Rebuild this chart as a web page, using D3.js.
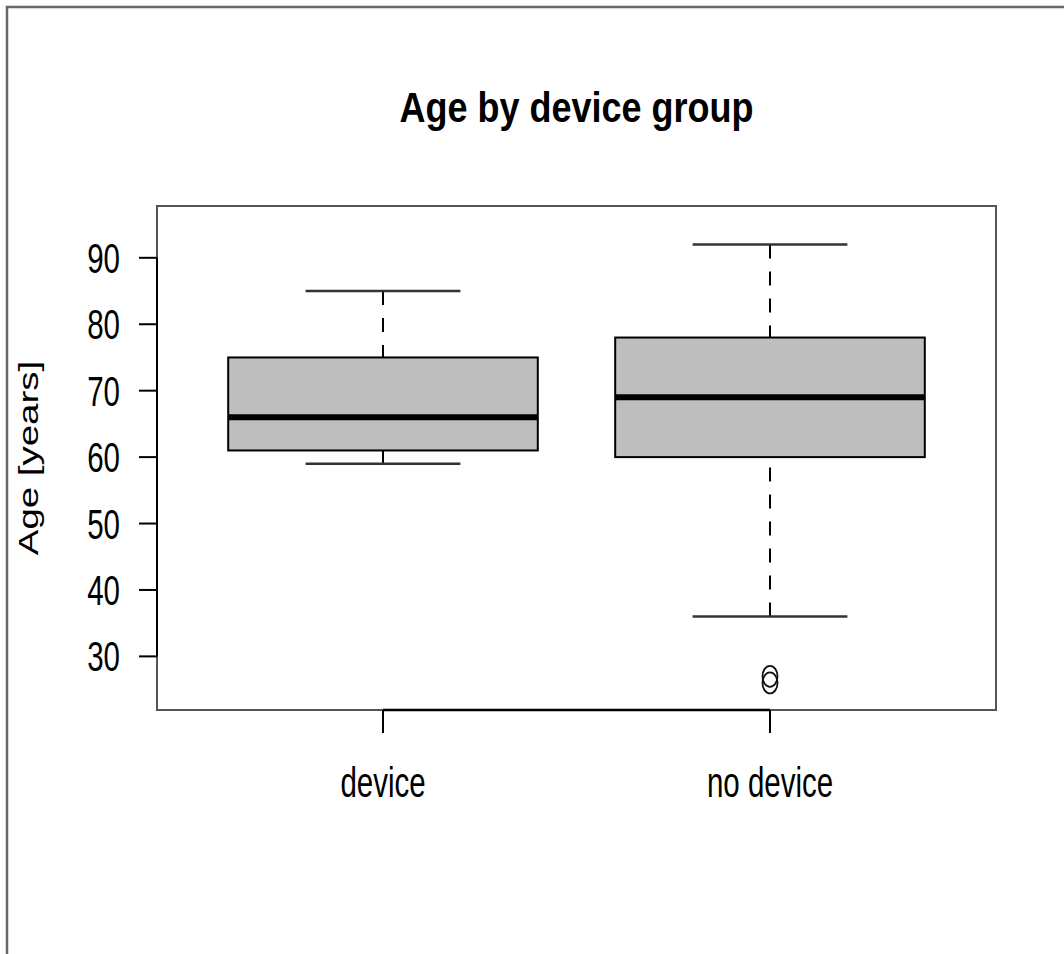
<!DOCTYPE html>
<meta charset="utf-8">
<style>
    body { margin: 0; background: #fff; }
    text { font-family: "Liberation Sans", Arial, sans-serif; fill: #000; }
</style>
<body>
    <script src="https://d3js.org/d3.v7.min.js"></script>
    <svg width="1064" height="954"></svg>
    <script>
        // boxplot stats
        var groups = ["device", "no device"];
        var lowerWhisker = [59, 36];
        var q1 = [61, 60];
        var medians = [66, 69];
        var q3 = [75, 78];
        var upperWhisker = [85, 92];
        var outliers = [[], [26, 27]];
        var yTicks = [30, 40, 50, 60, 70, 80, 90];
        var yDomain = [21.93, 97.8];

        var svg = d3.select("svg");

        // the original is stretched vertically, so text is too
        var stretch = 1.43,
            fs = 29.5;

        var plot = { left: 157, right: 996, top: 206, bottom: 710 };

        var xScale = d3.scalePoint().domain(groups).range([plot.left, plot.right]).padding(0.584),
            yScale = d3.scaleLinear().domain(yDomain).range([plot.bottom, plot.top]);

        var boxW = xScale.step() * 0.8,
            capW = boxW * 0.5;

        // outer frame
        svg.append("rect")
            .attr("x", 7).attr("y", 7)
            .attr("width", 1120).attr("height", 1000)
            .attr("fill", "none")
            .attr("stroke", "#666")
            .attr("stroke-width", 2.5);

        // title
        svg.append("text")
            .attr("transform", "translate(" + ((plot.left + plot.right) / 2) + ",122) scale(1,1.2)")
            .attr("text-anchor", "middle")
            .style("font-weight", "bold")
            .style("font-size", "36px")
            .text("Age by device group");

        var stats = groups.map(function(g, i) {
            return { name: g, lo: lowerWhisker[i], q1: q1[i], med: medians[i], q3: q3[i], hi: upperWhisker[i], out: outliers[i] };
        });

        var box = svg.selectAll(".box")
            .data(stats)
            .enter().append("g")
            .attr("class", "box");

        // whiskers drawn from the end towards the box, dashed
        box.append("line")
            .attr("x1", d => xScale(d.name)).attr("x2", d => xScale(d.name))
            .attr("y1", d => yScale(d.hi)).attr("y2", d => yScale(d.q3))
            .attr("stroke", "#000").attr("stroke-width", 2)
            .attr("stroke-dasharray", "14,13");
        box.append("line")
            .attr("x1", d => xScale(d.name)).attr("x2", d => xScale(d.name))
            .attr("y1", d => yScale(d.lo)).attr("y2", d => yScale(d.q1))
            .attr("stroke", "#000").attr("stroke-width", 2)
            .attr("stroke-dasharray", "14,13");

        // staples
        box.selectAll(".cap")
            .data(d => [d.hi, d.lo].map(v => ({ name: d.name, v: v })))
            .enter().append("line")
            .attr("class", "cap")
            .attr("x1", d => xScale(d.name) - capW / 2)
            .attr("x2", d => xScale(d.name) + capW / 2)
            .attr("y1", d => yScale(d.v)).attr("y2", d => yScale(d.v))
            .attr("stroke", "#333").attr("stroke-width", 2.5);

        box.append("rect")
            .attr("x", d => xScale(d.name) - boxW / 2)
            .attr("y", d => yScale(d.q3))
            .attr("width", boxW)
            .attr("height", d => yScale(d.q1) - yScale(d.q3))
            .attr("fill", "#bebebe")
            .attr("stroke", "#000")
            .attr("stroke-width", 2);

        box.append("line")
            .attr("x1", d => xScale(d.name) - boxW / 2)
            .attr("x2", d => xScale(d.name) + boxW / 2)
            .attr("y1", d => yScale(d.med)).attr("y2", d => yScale(d.med))
            .attr("stroke", "#000").attr("stroke-width", 6);

        box.selectAll(".out")
            .data(d => d.out.map(v => ({ name: d.name, v: v })))
            .enter().append("ellipse")
            .attr("class", "out")
            .attr("cx", d => xScale(d.name))
            .attr("cy", d => yScale(d.v))
            .attr("rx", 7.5).attr("ry", 10.5)
            .attr("fill", "none")
            .attr("stroke", "#111")
            .attr("stroke-width", 1.8);

        // plot box
        svg.append("rect")
            .attr("x", plot.left).attr("y", plot.top)
            .attr("width", plot.right - plot.left)
            .attr("height", plot.bottom - plot.top)
            .attr("fill", "none")
            .attr("stroke", "#555")
            .attr("stroke-width", 2);

        // y axis
        var yAxis = svg.append("g");
        yAxis.append("line")
            .attr("x1", plot.left).attr("x2", plot.left)
            .attr("y1", yScale(d3.min(yTicks))).attr("y2", yScale(d3.max(yTicks)))
            .attr("stroke", "#000").attr("stroke-width", 2);
        yAxis.selectAll(".ytick")
            .data(yTicks)
            .enter().append("line")
            .attr("class", "ytick")
            .attr("x1", plot.left - 18).attr("x2", plot.left)
            .attr("y1", d => yScale(d)).attr("y2", d => yScale(d))
            .attr("stroke", "#000").attr("stroke-width", 2);
        yAxis.selectAll(".ylab")
            .data(yTicks)
            .enter().append("text")
            .attr("class", "ylab")
            .attr("transform", d => "translate(120," + yScale(d) + ") scale(1," + stretch + ")")
            .attr("y", fs * 0.358)
            .attr("text-anchor", "end")
            .style("font-size", fs + "px")
            .text(d => d);

        svg.append("text")
            .attr("transform", "translate(38," + ((plot.top + plot.bottom) / 2) + ") rotate(-90) scale(" + stretch * 0.96 + ",1)")
            .attr("text-anchor", "middle")
            .style("font-size", "28px")
            .text("Age [years]");

        // x axis
        var xAxis = svg.append("g");
        xAxis.append("line")
            .attr("x1", xScale(groups[0])).attr("x2", xScale(groups[groups.length - 1]))
            .attr("y1", plot.bottom).attr("y2", plot.bottom)
            .attr("stroke", "#000").attr("stroke-width", 2.5);
        xAxis.selectAll(".xtick")
            .data(groups)
            .enter().append("line")
            .attr("class", "xtick")
            .attr("x1", d => xScale(d)).attr("x2", d => xScale(d))
            .attr("y1", plot.bottom).attr("y2", plot.bottom + 23)
            .attr("stroke", "#000").attr("stroke-width", 2);
        xAxis.selectAll(".xlab")
            .data(groups)
            .enter().append("text")
            .attr("class", "xlab")
            .attr("transform", d => "translate(" + xScale(d) + ",797) scale(1," + stretch + ")")
            .attr("text-anchor", "middle")
            .style("font-size", fs + "px")
            .text(d => d);
    </script>
</body>
